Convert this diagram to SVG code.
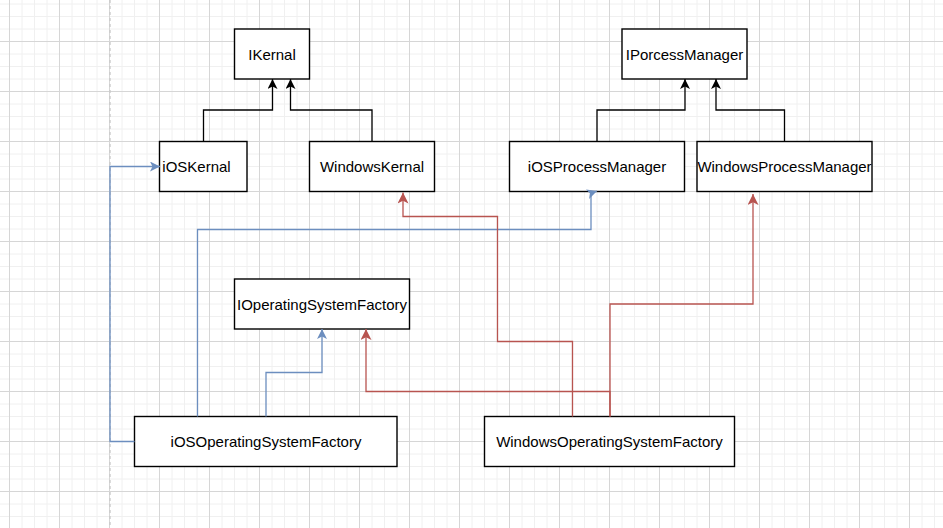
<svg xmlns="http://www.w3.org/2000/svg" width="943" height="528" viewBox="0 0 943 528">
<style>
.box{fill:#fff;stroke:#000;stroke-width:1.4}
.lbl{font-family:"Liberation Sans",Arial,sans-serif;font-size:15px;fill:#000;text-anchor:middle}
.c{fill:none;stroke-width:1.3}
.k{stroke:#000}
.b{stroke:#6c8ebf}
.r{stroke:#b85450}
</style>
<defs>
<pattern id="grid" x="9" y="41" width="50" height="50" patternUnits="userSpaceOnUse">
<path d="M13,0V50M25.5,0V50M38,0V50M0,13H50M0,25.5H50M0,38H50" stroke="#f0f0f0" stroke-width="1" fill="none"/>
<path d="M0.5,0V50M0,0.5H50" stroke="#d6d6d6" stroke-width="1" fill="none"/>
</pattern>
<marker id="ak" markerUnits="userSpaceOnUse" viewBox="0 0 10 10" refX="10" refY="5" markerWidth="10" markerHeight="10" orient="auto"><path d="M10,5L0,0L2.5,5L0,10Z" fill="#000"/></marker>
<marker id="ab" markerUnits="userSpaceOnUse" viewBox="0 0 10 10" refX="10" refY="5" markerWidth="10" markerHeight="10" orient="auto"><path d="M10,5L0,0L2.5,5L0,10Z" fill="#6c8ebf"/></marker>
<marker id="ar" markerUnits="userSpaceOnUse" viewBox="0 0 10 10" refX="10" refY="5" markerWidth="11" markerHeight="11" orient="auto"><path d="M10,5L0,0L2.5,5L0,10Z" fill="#b85450"/></marker>
</defs>
<rect width="943" height="528" fill="#fff"/>
<rect width="943" height="528" fill="url(#grid)"/>
<line x1="110" y1="0" x2="110" y2="528" stroke="#c8c8c8" stroke-width="1.3" stroke-dasharray="3,3"/>
<g id="IKernal"><rect class="box" x="234.5" y="29" width="75" height="50"/><text class="lbl" x="272" y="59.5">IKernal</text></g>
<g id="iOSKernal"><rect class="box" x="159.5" y="141.5" width="87.5" height="50"/><text class="lbl" x="196.5" y="172">iOSKernal</text></g>
<g id="WindowsKernal"><rect class="box" x="309.5" y="141.5" width="125" height="50"/><text class="lbl" x="372" y="172">WindowsKernal</text></g>
<g id="IPorcessManager"><rect class="box" x="622" y="29" width="125" height="50"/><text class="lbl" x="684.5" y="59.5">IPorcessManager</text></g>
<g id="iOSProcessManager"><rect class="box" x="509.5" y="141.5" width="175" height="50"/><text class="lbl" x="597" y="172">iOSProcessManager</text></g>
<g id="WindowsProcessManager"><rect class="box" x="697" y="141.5" width="175" height="50"/><text class="lbl" x="784.5" y="172">WindowsProcessManager</text></g>
<g id="IOperatingSystemFactory"><rect class="box" x="234.5" y="279" width="175" height="50"/><text class="lbl" x="322" y="309.5">IOperatingSystemFactory</text></g>
<g id="iOSOperatingSystemFactory"><rect class="box" x="134.5" y="416.5" width="262.5" height="50"/><text class="lbl" x="266" y="447">iOSOperatingSystemFactory</text></g>
<g id="WindowsOperatingSystemFactory"><rect class="box" x="484.5" y="416.5" width="250" height="50"/><text class="lbl" x="609.5" y="447">WindowsOperatingSystemFactory</text></g>
<g id="connectors">
<path class="c k" d="M203.5,141.5V110H272.5V79" marker-end="url(#ak)"/>
<path class="c k" d="M372,141.5V110H290.5V79" marker-end="url(#ak)"/>
<path class="c k" d="M597,141.5V110H685V79" marker-end="url(#ak)"/>
<path class="c k" d="M784.5,141.5V110H716V79" marker-end="url(#ak)"/>
<path class="c b" d="M134.5,441.5H110V166.5H160" marker-end="url(#ab)"/>
<path class="c b" d="M197.5,416.5V229.5H591V193L597,191" marker-end="url(#ab)"/>
<path class="c b" d="M266,416.5V372.5H322V329" marker-end="url(#ab)"/>
<path class="c r" d="M572.5,416.5V341.5H497.5V216.5H403V192.5" marker-end="url(#ar)"/>
<path class="c r" d="M610,416.5V304H753V194" marker-end="url(#ar)"/>
<path class="c r" d="M610,416.5V391.5H366V329" marker-end="url(#ar)"/>
</g>
</svg>
